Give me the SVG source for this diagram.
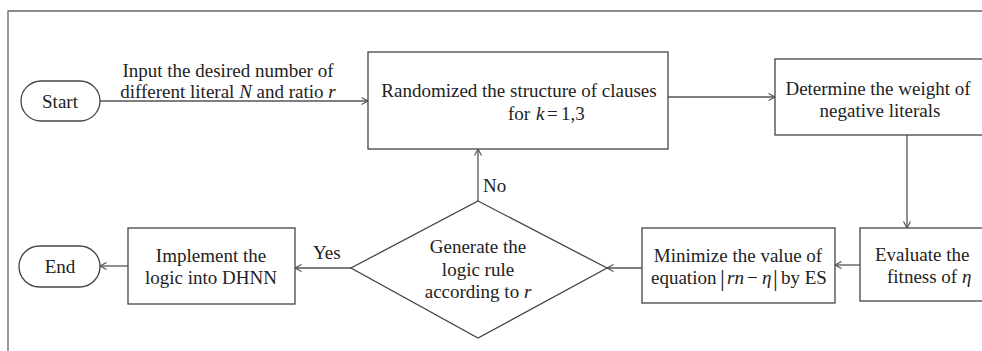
<svg xmlns="http://www.w3.org/2000/svg" width="982" height="351" viewBox="0 0 982 351">
<style>
.box{fill:#fff;stroke:#444;stroke-width:1.3}
.t{font-family:"Liberation Serif","Times New Roman",serif;font-size:19px;fill:#222}
.m{text-anchor:middle}
.i{font-style:italic}
.c{fill:none;stroke:#555;stroke-width:1.3}
.frame{fill:none;stroke:#666;stroke-width:1.3}
</style>
<defs>
<marker id="ah" markerUnits="userSpaceOnUse" markerWidth="10" markerHeight="10" refX="7" refY="4" orient="auto">
<path d="M0.5,0.5 L7,4 L0.5,7.5" fill="none" stroke="#555" stroke-width="1.2"/>
</marker>
</defs>
<rect width="982" height="351" fill="#fff"/>
<path class="frame" d="M8,351 L8,11 L982,11"/>
<g id="connectors">
<line class="c" x1="100" y1="101" x2="368" y2="101" marker-end="url(#ah)"/>
<line class="c" x1="668" y1="97" x2="775" y2="97" marker-end="url(#ah)"/>
<line class="c" x1="907" y1="135" x2="907" y2="228" marker-end="url(#ah)"/>
<line class="c" x1="860" y1="265" x2="835" y2="265" marker-end="url(#ah)"/>
<line class="c" x1="642" y1="268" x2="607" y2="268" marker-end="url(#ah)"/>
<line class="c" x1="351" y1="268" x2="295" y2="268" marker-end="url(#ah)"/>
<line class="c" x1="128" y1="266" x2="100" y2="266" marker-end="url(#ah)"/>
<line class="c" x1="478" y1="201" x2="478" y2="149" marker-end="url(#ah)"/>
<text class="t" x="228" y="77" text-anchor="middle">Input the desired number of</text>
<text class="t" x="228" y="98" text-anchor="middle">different literal <tspan class="i">N</tspan> and ratio <tspan class="i">r</tspan></text>
<text class="t" x="313" y="259">Yes</text>
<text class="t" x="483" y="192">No</text>
</g>
<g id="start">
<rect class="box" x="21" y="81" width="79" height="40" rx="20"/>
<text class="t m" x="60" y="108">Start</text>
</g>
<g id="randomize">
<rect class="box" x="368" y="52" width="300" height="97"/>
<text class="t m" x="519" y="97">Randomized the structure of clauses</text>
<text class="t" x="508" y="120">for<tspan class="i" x="536">k</tspan><tspan x="547">=</tspan><tspan x="561">1,3</tspan></text>
</g>
<g id="determine">
<rect class="box" x="775" y="59" width="220" height="76"/>
<text class="t m" x="878" y="95">Determine the weight of</text>
<text class="t m" x="880" y="117">negative literals</text>
</g>
<g id="evaluate">
<rect class="box" x="860" y="228" width="135" height="73"/>
<text class="t" x="875" y="261">Evaluate the</text>
<text class="t" x="887" y="283">fitness of <tspan class="i">η</tspan></text>
</g>
<g id="minimize">
<rect class="box" x="642" y="228" width="193" height="75"/>
<text class="t m" x="738" y="262">Minimize the value of</text>
<text class="t" x="651" y="284">equation<tspan x="720" font-size="24" dy="2">|</tspan><tspan class="i" x="727" dy="-2">rn</tspan><tspan x="747">−</tspan><tspan class="i" x="762">η</tspan><tspan x="773" font-size="24" dy="2">|</tspan><tspan x="781" dy="-2">by ES</tspan></text>
</g>
<g id="decision">
<polygon class="box" points="478,201 607,268 478,338 351,268"/>
<text class="t m" x="478" y="253">Generate the</text>
<text class="t m" x="478" y="276">logic rule</text>
<text class="t m" x="478" y="298">according to <tspan class="i">r</tspan></text>
</g>
<g id="implement">
<rect class="box" x="128" y="228" width="167" height="76"/>
<text class="t m" x="211" y="262">Implement the</text>
<text class="t m" x="211" y="284">logic into DHNN</text>
</g>
<g id="end">
<rect class="box" x="19" y="246" width="81" height="41" rx="20.5"/>
<text class="t m" x="60" y="273">End</text>
</g>
</svg>
